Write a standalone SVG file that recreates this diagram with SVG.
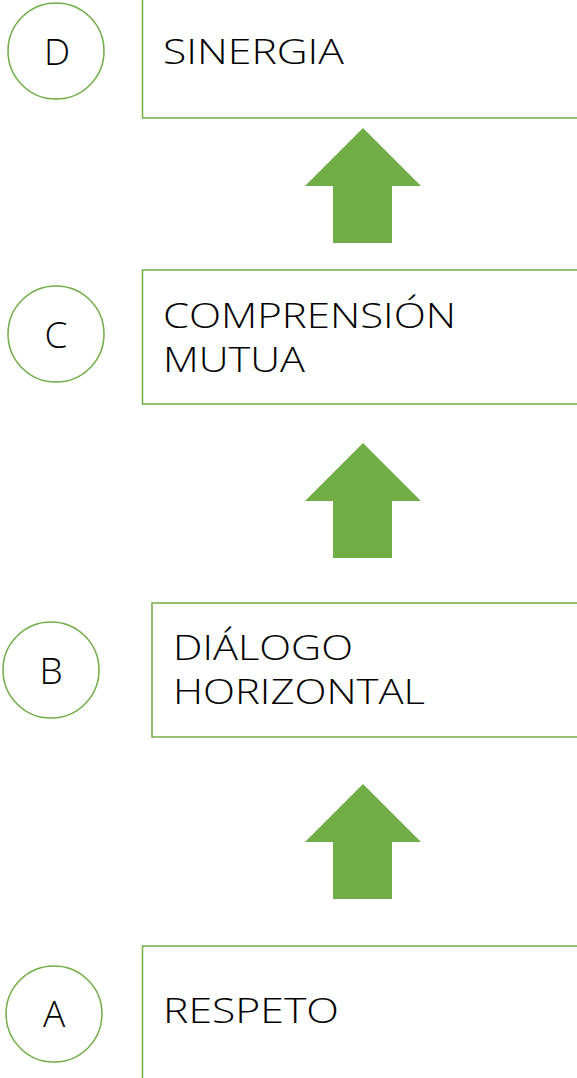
<svg xmlns="http://www.w3.org/2000/svg" width="577" height="1078" viewBox="0 0 577 1078">
<style>
.circ{fill:#fff;stroke:#70AD47;stroke-width:1.5}
.box{fill:#fff;stroke:#70AD47;stroke-width:1.5}
.arrow{fill:#70AD47}
text{font-family:"Open Sans","DejaVu Sans",sans-serif;font-weight:350;font-size:35px;fill:#000}
.lbl{text-anchor:middle;font-size:37px}
</style>
<rect width="577" height="1078" fill="#fff"/>
<g id="connectors">
<polygon class="arrow" points="363,128 421,186 392,186 392,243 333,243 333,186 305,186"/>
<polygon class="arrow" points="363,443 421,501 392,501 392,558 333,558 333,501 305,501"/>
<polygon class="arrow" points="363,784 421,842 392,842 392,899 333,899 333,842 305,842"/>
</g>
<g id="node-D">
<circle class="circ" cx="56" cy="51" r="48"/>
<text class="lbl" x="57" y="65">D</text>
<rect class="box" x="142.5" y="-10" width="450" height="128"/>
<text x="163" y="64" textLength="181" lengthAdjust="spacingAndGlyphs">SINERGIA</text>
</g>
<g id="node-C">
<circle class="circ" cx="56" cy="334" r="48"/>
<text class="lbl" x="56" y="348">C</text>
<rect class="box" x="142.5" y="270" width="450" height="134"/>
<text x="163" y="328" textLength="293" lengthAdjust="spacingAndGlyphs">COMPRENSIÓN</text>
<text x="163" y="372" textLength="142" lengthAdjust="spacingAndGlyphs">MUTUA</text>
</g>
<g id="node-B">
<circle class="circ" cx="51" cy="670" r="48"/>
<text class="lbl" x="51" y="684">B</text>
<rect class="box" x="152" y="603" width="440" height="134"/>
<text x="173" y="660" textLength="180" lengthAdjust="spacingAndGlyphs">DIÁLOGO</text>
<text x="173" y="704" textLength="252" lengthAdjust="spacingAndGlyphs">HORIZONTAL</text>
</g>
<g id="node-A">
<circle class="circ" cx="54" cy="1014" r="48"/>
<text class="lbl" x="54" y="1027">A</text>
<rect class="box" x="142.5" y="946" width="450" height="150"/>
<text x="163" y="1023" textLength="176" lengthAdjust="spacingAndGlyphs">RESPETO</text>
</g>
</svg>
